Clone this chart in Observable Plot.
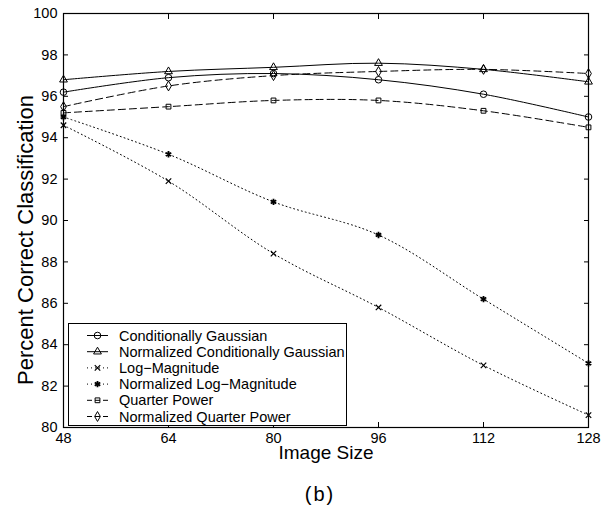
<!DOCTYPE html>
<html>
<head>
<meta charset="utf-8">
<script src="https://cdn.jsdelivr.net/npm/d3@7"></script>
<script src="https://cdn.jsdelivr.net/npm/@observablehq/plot@0.6"></script>
<style>
  html, body { margin: 0; padding: 0; background: #fff; }
  svg { display: block; }
</style>
</head>
<body>
<div id="chart"></div>
<script>
// Classification accuracy (%) for each feature type versus image size
const imageSizes = [48, 64, 80, 96, 112, 128];

const condGaussian     = [96.2, 96.9, 97.1, 96.8, 96.1, 95.0];
const normCondGaussian = [96.8, 97.2, 97.4, 97.6, 97.3, 96.7];
const logMagnitude     = [94.6, 91.9, 88.4, 85.8, 83.0, 80.6];
const normLogMagnitude = [95.0, 93.2, 90.9, 89.3, 86.2, 83.1];
const quarterPower     = [95.2, 95.5, 95.8, 95.8, 95.3, 94.5];
const normQuarterPower = [95.5, 96.5, 97.0, 97.2, 97.3, 97.1];

const seriesNames = [
  "Conditionally Gaussian",
  "Normalized Conditionally Gaussian",
  "Log\u2212Magnitude",
  "Normalized Log\u2212Magnitude",
  "Quarter Power",
  "Normalized Quarter Power"
];
const seriesValues = [condGaussian, normCondGaussian, logMagnitude, normLogMagnitude, quarterPower, normQuarterPower];

const xTicks = [48, 64, 80, 96, 112, 128];
const yTicks = [80, 82, 84, 86, 88, 90, 92, 94, 96, 98, 100];

const xLabel = "Image Size";
const yLabel = "Percent Correct Classification";
const panelLabel = "(b)";

// line / marker appearance per series (MATLAB-like styles)
const seriesStyles = [
  {symbol: "circle",   r: 3.3, sw: 1,   dash: null},
  {symbol: "triangle", r: 2.9, sw: 1,   dash: null},
  {symbol: "times",    r: 2.6, sw: 1.2, dash: "1,3"},
  {symbol: "asterisk", r: 3.0, sw: 1.8, dash: "1,3"},
  {symbol: "square",   r: 2.7, sw: 1,   dash: "7,4"},
  {symbol: "diamond",  r: 3.0, sw: 1,   dash: "7,4"}
];

const rows = seriesNames.flatMap((name, k) =>
  seriesValues[k].map((v, i) => ({series: name, size: imageSizes[i], pct: v}))
);

const FONT = "'Liberation Sans', Arial, Helvetica, sans-serif";
const W = 610, H = 508;
const M = {top: 13, right: 22, bottom: 81, left: 63};

const marks = [];
seriesNames.forEach((name, k) => {
  const st = seriesStyles[k];
  const data = rows.filter(d => d.series === name);
  marks.push(Plot.line(data, {
    x: "size", y: "pct", stroke: "black", strokeWidth: 1,
    strokeDasharray: st.dash, curve: "catmull-rom"
  }));
  marks.push(Plot.dot(data, {
    x: "size", y: "pct", symbol: st.symbol, r: st.r,
    stroke: "black", strokeWidth: st.sw, fill: "none"
  }));
});

const chart = Plot.plot({
  width: W,
  height: H,
  marginTop: M.top,
  marginRight: M.right,
  marginBottom: M.bottom,
  marginLeft: M.left,
  style: {fontFamily: FONT, fontSize: "14.5px", color: "black", background: "white"},
  x: {domain: [48, 128], label: null},
  y: {domain: [80, 100], label: null},
  marks: [
    // axes with inward ticks on all four sides
    Plot.axisX({ticks: xTicks, anchor: "bottom", tickSize: -5, tickPadding: 10, label: null}),
    Plot.axisX({ticks: xTicks, anchor: "top", tickSize: -5, tickFormat: () => "", label: null}),
    Plot.axisY({ticks: yTicks, anchor: "left", tickSize: -5, tickPadding: 11, label: null}),
    Plot.axisY({ticks: yTicks, anchor: "right", tickSize: -5, tickFormat: () => "", label: null}),
    ...marks,
    Plot.frame({stroke: "black", strokeWidth: 1.2}),
    Plot.text([xLabel], {frameAnchor: "bottom", text: d => d, dy: 31, fontSize: 19})
  ]
});

document.getElementById("chart").appendChild(chart);

const svg = d3.select(chart);

// vertical axis title
svg.append("text")
  .attr("transform", "translate(25,240) rotate(-90)")
  .attr("text-anchor", "middle")
  .attr("dy", "0.35em")
  .attr("font-family", FONT)
  .attr("font-size", 22)
  .attr("fill", "black")
  .text(yLabel);

// panel label under the axis title
svg.append("text")
  .attr("x", 320).attr("y", 494)
  .attr("text-anchor", "middle")
  .attr("dy", "0.35em")
  .attr("font-family", FONT)
  .attr("font-size", 20)
  .attr("letter-spacing", "2px")
  .attr("fill", "black")
  .text(panelLabel);

// legend box in the lower-left corner of the axes
const lg = svg.append("g")
  .attr("font-family", FONT)
  .attr("font-size", 14.5)
  .attr("text-anchor", "start");
lg.append("rect")
  .attr("x", 68.5).attr("y", 323.5)
  .attr("width", 278).attr("height", 102)
  .attr("fill", "white").attr("stroke", "black").attr("stroke-width", 1);

const symbolTypes = {
  circle: d3.symbolCircle, triangle: d3.symbolTriangle, times: d3.symbolTimes,
  asterisk: d3.symbolAsterisk, square: d3.symbolSquare, diamond: d3.symbolDiamond
};

seriesNames.forEach((name, k) => {
  const st = seriesStyles[k];
  const y = 335.5 + k * 16.2;
  lg.append("line")
    .attr("x1", 87).attr("x2", 108).attr("y1", y).attr("y2", y)
    .attr("stroke", "black").attr("stroke-width", 1)
    .attr("stroke-dasharray", st.dash ? (st.dash === "7,4" ? "5,3" : st.dash) : null);
  lg.append("path")
    .attr("transform", `translate(97.5,${y})`)
    .attr("d", d3.symbol(symbolTypes[st.symbol], st.r * st.r * Math.PI)())
    .attr("fill", "none").attr("stroke", "black").attr("stroke-width", st.sw);
  lg.append("text")
    .attr("x", 119).attr("y", y)
    .attr("dy", "0.35em")
    .attr("text-anchor", "start")
    .attr("fill", "black")
    .text(name);
});
</script>
</body>
</html>
